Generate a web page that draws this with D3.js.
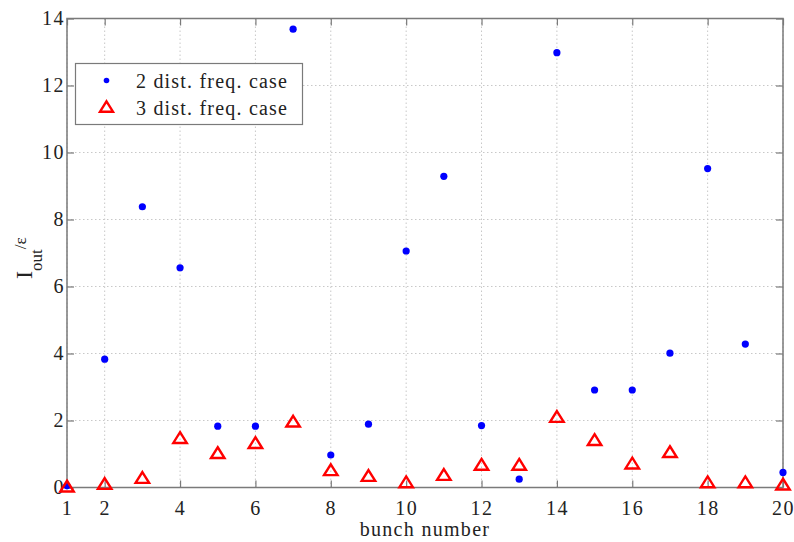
<!DOCTYPE html>
<html>
<head>
<meta charset="utf-8">
<script src="https://cdn.jsdelivr.net/npm/d3@7"></script>
<style>
  html, body { margin: 0; padding: 0; background: #fff; }
  svg { display: block; }
  text { font-family: "Liberation Serif", "DejaVu Serif", serif; fill: #222; }
</style>
</head>
<body>
<svg id="chart" width="794" height="542"></svg>
<script>
// Bunch index along the horizontal axis
const bunches = d3.range(1, 21);
// Output current per unit coupling, two distinct frequencies
const twoFreq = [0.05, 3.83, 8.38, 6.56, 1.83, 1.83, 13.68, 0.97, 1.89, 7.06,
                 9.29, 1.85, 0.25, 12.98, 2.91, 2.91, 4.01, 9.52, 4.28, 0.45];
// Output current per unit coupling, three distinct frequencies
const threeFreq = [0.04, 0.12, 0.30, 1.49, 1.04, 1.34, 1.98, 0.53, 0.36, 0.17,
                   0.39, 0.69, 0.69, 2.12, 1.43, 0.73, 1.07, 0.17, 0.17, 0.10];
const xTicks = [1, 2, 4, 6, 8, 10, 12, 14, 16, 18, 20];
const yTicks = [0, 2, 4, 6, 8, 10, 12, 14];
const seriesNames = ["2 dist. freq. case", "3 dist. freq. case"];

const svg = d3.select("#chart");
const plotLeft = 67, plotRight = 783, plotTop = 18.5, plotBottom = 487.5;

const x = d3.scaleLinear().domain([1, 20]).range([plotLeft, plotRight]);
const y = d3.scaleLinear().domain([0, 14]).range([plotBottom, plotTop]);

const axisColor = "#7a7a7a";
const serif = "Liberation Serif, DejaVu Serif, serif";

// dotted grid
const grid = svg.append("g");
grid.selectAll("line.gx").data(xTicks).join("line")
  .attr("x1", d => x(d)).attr("x2", d => x(d))
  .attr("y1", plotTop).attr("y2", plotBottom)
  .attr("stroke", "#c8c8c8").attr("stroke-width", 1)
  .attr("stroke-dasharray", "1.5,2.5");
grid.selectAll("line.gy").data(yTicks).join("line")
  .attr("x1", plotLeft).attr("x2", plotRight)
  .attr("y1", d => y(d)).attr("y2", d => y(d))
  .attr("stroke", "#c8c8c8").attr("stroke-width", 1)
  .attr("stroke-dasharray", "1.5,2.5");

// axes with inward ticks on all four sides
function styleAxis(g) {
  g.attr("font-family", serif);
  g.select(".domain").remove();
  g.selectAll(".tick line").attr("stroke", axisColor).attr("stroke-width", 1.2);
  g.selectAll(".tick text").attr("font-size", 20).attr("fill", "#222")
    .attr("letter-spacing", 1.5);
}
svg.append("g").attr("transform", `translate(0,${plotBottom})`)
  .call(d3.axisBottom(x).tickValues(xTicks).tickSize(-7).tickPadding(13).tickFormat(d3.format("d")))
  .call(styleAxis);
svg.append("g").attr("transform", `translate(0,${plotTop})`)
  .call(d3.axisTop(x).tickValues(xTicks).tickSize(-7).tickFormat(""))
  .call(styleAxis);
svg.append("g").attr("transform", `translate(${plotLeft},0)`)
  .call(d3.axisLeft(y).tickValues(yTicks).tickSize(-7).tickPadding(2).tickFormat(d3.format("d")))
  .call(styleAxis);
svg.append("g").attr("transform", `translate(${plotRight},0)`)
  .call(d3.axisRight(y).tickValues(yTicks).tickSize(-7).tickFormat(""))
  .call(styleAxis);

// frame
svg.append("rect")
  .attr("x", plotLeft).attr("y", plotTop)
  .attr("width", plotRight - plotLeft).attr("height", plotBottom - plotTop)
  .attr("fill", "none").attr("stroke", axisColor).attr("stroke-width", 1.5);

// triangle marker path centred on the origin
function triPath(w) {
  const h = w * 0.8;
  return `M0,${-h / 2}L${w / 2},${h / 2}L${-w / 2},${h / 2}Z`;
}

// series 1: blue dots
svg.append("g").selectAll("circle").data(bunches).join("circle")
  .attr("cx", (d) => x(d)).attr("cy", (d, i) => y(twoFreq[i]))
  .attr("r", 3.6).attr("fill", "#0000ff");

// series 2: red open triangles
svg.append("g").selectAll("path").data(bunches).join("path")
  .attr("transform", (d, i) => `translate(${x(d)},${y(threeFreq[i])})`)
  .attr("d", triPath(13.5))
  .attr("fill", "none").attr("stroke", "#ff0000").attr("stroke-width", 2.4);

// axis labels
svg.append("text")
  .attr("x", (plotLeft + plotRight) / 2).attr("y", 536)
  .attr("text-anchor", "middle").attr("font-size", 20)
  .attr("letter-spacing", 1.3)
  .text("bunch number");

const yl = svg.append("text")
  .attr("transform", "translate(32,279) rotate(-90)")
  .attr("text-anchor", "start").attr("font-size", 24);
yl.append("tspan").text("I");
yl.append("tspan").attr("font-size", 17).attr("dy", 10).text("out");
yl.append("tspan").attr("font-size", 17).attr("dy", -16).text("/ε");

// legend
const lg = svg.append("g");
lg.append("rect")
  .attr("x", 75.5).attr("y", 63.5).attr("width", 227).attr("height", 61)
  .attr("fill", "#fff").attr("stroke", axisColor).attr("stroke-width", 1.2);
lg.append("circle").attr("cx", 106.5).attr("cy", 80.5).attr("r", 2.8).attr("fill", "#0000ff");
lg.append("path").attr("transform", "translate(106.5,106.5)").attr("d", triPath(13))
  .attr("fill", "none").attr("stroke", "#ff0000").attr("stroke-width", 2.4);
lg.selectAll("text.lt").data(seriesNames).join("text")
  .attr("x", 136).attr("y", (d, i) => 88 + i * 26.5)
  .attr("font-size", 20).attr("letter-spacing", 1.2).text(d => d);
</script>
</body>
</html>
